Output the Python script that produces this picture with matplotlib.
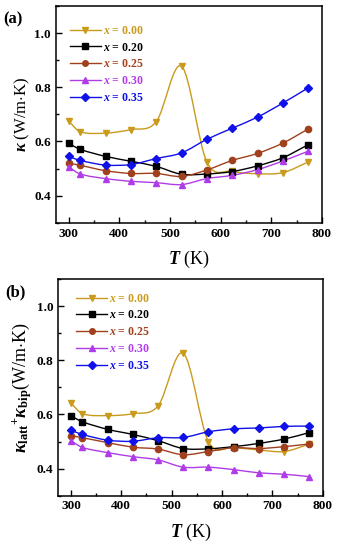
import numpy as np
import matplotlib
matplotlib.use('Agg')
import matplotlib.pyplot as plt
from matplotlib.path import Path
from matplotlib.patches import PathPatch
from matplotlib.ticker import MultipleLocator

plt.rcParams['font.family'] = 'Liberation Serif'
plt.rcParams['font.weight'] = 'bold'
plt.rcParams['mathtext.fontset'] = 'custom'
plt.rcParams['mathtext.rm'] = 'Liberation Serif:bold'
plt.rcParams['mathtext.it'] = 'Liberation Serif:italic:bold'
plt.rcParams['mathtext.bf'] = 'Liberation Serif:bold'

T = [300, 323, 373, 423, 473, 523, 573, 623, 673, 723, 773]
labels = ['0.00', '0.20', '0.25', '0.30', '0.35']
colors = ['#C99A1C', '#000000', '#A0401C', '#B03CE8', '#1010E8']
markers = ['v', 's', 'o', '^', 'D']

# panel (a): total kappa
kap_a = [
    [0.675, 0.636, 0.631, 0.644, 0.673, 0.878, 0.524, 0.490, 0.481, 0.485, 0.524],
    [0.593, 0.571, 0.545, 0.527, 0.508, 0.479, 0.480, 0.489, 0.510, 0.540, 0.588],
    [0.520, 0.512, 0.492, 0.482, 0.482, 0.471, 0.495, 0.530, 0.556, 0.594, 0.646],
    [0.506, 0.480, 0.463, 0.453, 0.448, 0.441, 0.463, 0.475, 0.496, 0.528, 0.564],
    [0.545, 0.530, 0.513, 0.515, 0.537, 0.558, 0.608, 0.649, 0.690, 0.742, 0.798],
]
# panel (b): kappa_latt + kappa_bip
kap_b = [
    [0.642, 0.603, 0.596, 0.603, 0.632, 0.827, 0.499, 0.479, 0.469, 0.463, 0.490],
    [0.595, 0.573, 0.545, 0.526, 0.503, 0.474, 0.473, 0.481, 0.493, 0.509, 0.533],
    [0.522, 0.514, 0.496, 0.479, 0.472, 0.451, 0.463, 0.477, 0.474, 0.481, 0.491],
    [0.503, 0.478, 0.459, 0.444, 0.432, 0.405, 0.405, 0.396, 0.384, 0.379, 0.370],
    [0.542, 0.526, 0.505, 0.501, 0.514, 0.515, 0.536, 0.547, 0.550, 0.556, 0.557],
]


def smooth_path(x, y):
    # cubic hermite curve through the points, drawn as bezier segments
    x = np.asarray(x, float)
    y = np.asarray(y, float)
    n = len(x)
    m = np.zeros(n)
    m[0] = (y[1] - y[0]) / (x[1] - x[0])
    m[-1] = (y[-1] - y[-2]) / (x[-1] - x[-2])
    for i in range(1, n - 1):
        m[i] = (y[i + 1] - y[i - 1]) / (x[i + 1] - x[i - 1])
    verts = [(x[0], y[0])]
    codes = [Path.MOVETO]
    for i in range(n - 1):
        h = x[i + 1] - x[i]
        verts += [(x[i] + h / 3, y[i] + m[i] * h / 3),
                  (x[i + 1] - h / 3, y[i + 1] - m[i + 1] * h / 3),
                  (x[i + 1], y[i + 1])]
        codes += [Path.CURVE4] * 3
    return Path(verts, codes)


def panel(ax, data, ylabel, ysize, tag, leg_x, leg_y):
    for d, lab, c, mk in zip(data, labels, colors, markers):
        ax.add_patch(PathPatch(smooth_path(T, d), fill=False, edgecolor=c, lw=1.0))
        ax.plot(T, d, ls='none', marker=mk, color=c, ms=4.5 if mk != 'D' else 4)
        ax.plot([], [], color=c, marker=mk, ms=4, lw=1.0,
                label=r'$x$ = ' + lab)
    ax.set_xlim(275, 800)
    ax.set_ylim(0.3, 1.1)
    ax.set_xticks([300, 400, 500, 600, 700, 800])
    ax.set_yticks([0.4, 0.6, 0.8, 1.0])
    ax.xaxis.set_minor_locator(MultipleLocator(50))
    ax.yaxis.set_minor_locator(MultipleLocator(0.1))
    ax.tick_params(which='both', direction='in', labelsize=9.5, width=1)
    ax.tick_params(which='major', length=4)
    ax.tick_params(which='minor', length=2)
    for lbl in ax.get_xticklabels() + ax.get_yticklabels():
        lbl.set_fontweight('bold')
    for s in ax.spines.values():
        s.set_linewidth(1.1)
    ax.set_xlabel(r'$T$ (K)', fontsize=13, labelpad=7)
    ax.set_ylabel(ylabel, fontsize=ysize, labelpad=2)
    ax.legend(loc='upper left', bbox_to_anchor=(leg_x, leg_y), frameon=False,
              fontsize=8.5, handlelength=2.6, handletextpad=0.2,
              labelspacing=0.4, labelcolor='linecolor', borderaxespad=0)
    ax.text(-0.2, 0.975, tag, transform=ax.transAxes, fontsize=12,
            fontweight='bold', ha='left', va='top')


fig = plt.figure(figsize=(3.37, 5.5), dpi=100)
ax1 = fig.add_axes([0.166, 0.595, 0.789, 0.394])
ax2 = fig.add_axes([0.173, 0.099, 0.785, 0.393])

panel(ax1, kap_a, r'$\kappa$ (W/m$\cdot$K)', 12, '(a)', 0.035, 0.935)
panel(ax2, kap_b, r'$\kappa_{\rm latt}$$^{+}$$\kappa_{\rm bip}$(W/m$\cdot$K)', 13,
      '(b)', 0.05, 0.96)

fig.savefig('out.png', dpi=100)
